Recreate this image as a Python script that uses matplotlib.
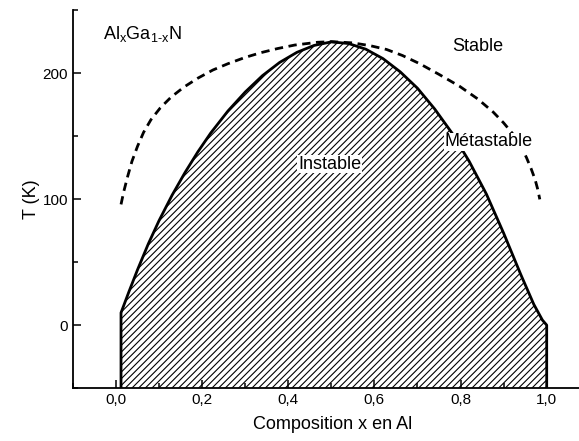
import numpy as np
import matplotlib
matplotlib.use('Agg')
from matplotlib import pyplot as plt
from matplotlib.ticker import MultipleLocator, FixedLocator, FixedFormatter

plt.rcParams['font.family'] = ['Liberation Sans', 'DejaVu Sans']
plt.rcParams['mathtext.fontset'] = 'custom'
plt.rcParams['mathtext.rm'] = 'Liberation Sans'
plt.rcParams['mathtext.it'] = 'Liberation Sans'
plt.rcParams['hatch.linewidth'] = 0.8

# spinodal (solid) : composition x, temperature T
spin_x = [0.0116, 0.03, 0.05, 0.075, 0.10, 0.13, 0.16, 0.19, 0.22, 0.26,
          0.30, 0.34, 0.38, 0.42, 0.46, 0.50, 0.54, 0.58, 0.62, 0.66,
          0.70, 0.74, 0.78, 0.82, 0.86, 0.90, 0.94, 0.97, 0.99, 1.0]
spin_t = [9.8, 26.5, 44.0, 64.5, 83.0, 103.0, 121.0, 137.5, 152.5, 170.0,
          185.0, 198.0, 208.5, 216.5, 222.0, 224.8, 223.5, 219.0, 211.5, 201.0,
          188.0, 171.5, 152.5, 130.0, 104.0, 73.0, 40.0, 16.5, 4.0, 0.0]

# binodal (dashed)
bin_x = [0.0116, 0.018, 0.027, 0.037, 0.05, 0.064, 0.081, 0.103, 0.128, 0.158,
         0.19, 0.225, 0.26, 0.30, 0.337, 0.375, 0.415, 0.468, 0.50, 0.55,
         0.59, 0.628, 0.665, 0.705, 0.75, 0.798, 0.84, 0.876, 0.90, 0.922,
         0.94, 0.953, 0.964, 0.973, 0.979, 0.984]
bin_t = [95.8, 106.0, 118.0, 130.0, 142.0, 153.0, 163.0, 172.5, 181.0, 189.0,
         196.0, 202.5, 207.5, 212.5, 216.3, 219.5, 222.3, 224.5, 225.0, 224.0,
         221.8, 218.8, 214.0, 207.5, 199.0, 189.5, 179.5, 169.0, 160.5, 151.5,
         142.0, 133.0, 124.0, 115.6, 108.0, 99.8]

x_ticks = [0.0, 0.2, 0.4, 0.6, 0.8, 1.0]
x_labels = ['0,0', '0,2', '0,4', '0,6', '0,8', '1,0']
y_ticks = [0, 100, 200]
t_min, t_max = -50, 250

fig = plt.figure(figsize=(5.79, 4.41), dpi=100)
ax = fig.add_axes([0.126, 0.120, 0.874, 0.857])

# hatched unstable region
ax.fill_between(spin_x, t_min, spin_t, facecolor='white', edgecolor='black',
                hatch='/////', linewidth=0, zorder=1)
line_x = [spin_x[0]] + spin_x + [spin_x[-1]]
line_t = [t_min] + spin_t + [t_min]
ax.plot(line_x, line_t, color='black', lw=2.0, zorder=3,
        solid_joinstyle='round')
ax.plot(bin_x, bin_t, color='black', lw=2.0, dashes=(3, 2), zorder=3)

box = dict(facecolor='white', edgecolor='none', pad=0.5)
ax.text(0.496, 127.8, 'Instable', ha='center', va='center', fontsize=13,
        bbox=box, zorder=5)
ax.text(0.866, 145.5, 'Métastable', ha='center', va='center', fontsize=13,
        bbox=box, zorder=5)
ax.text(0.839, 221.4, 'Stable', ha='center', va='center', fontsize=13, zorder=5)
ax.text(-0.031, 226.7, r'Al$_\mathregular{x}$Ga$_\mathregular{1\text{-}x}$N',
        ha='left', va='baseline', fontsize=13, zorder=5)

ax.set_xlim(-0.1, 1.075)
ax.set_ylim(t_min, t_max)
ax.xaxis.set_major_locator(FixedLocator(x_ticks))
ax.xaxis.set_major_formatter(FixedFormatter(x_labels))
ax.xaxis.set_minor_locator(MultipleLocator(0.1))
ax.yaxis.set_major_locator(FixedLocator(y_ticks))
ax.yaxis.set_minor_locator(MultipleLocator(50))

for s in ['top', 'right']:
    ax.spines[s].set_visible(False)
for s in ['left', 'bottom']:
    ax.spines[s].set_linewidth(1.3)
ax.tick_params(which='both', direction='in', width=1.1, labelsize=11)
ax.tick_params(which='major', length=6)
ax.tick_params(which='minor', length=3.5)

ax.set_xlabel('Composition x en Al', fontsize=13)
ax.set_ylabel('T (K)', fontsize=13)
ax.xaxis.set_label_coords(0.514, -0.075)
ax.yaxis.set_label_coords(-0.065, 0.5)

plt.savefig('out.png', dpi=100)
plt.close()
